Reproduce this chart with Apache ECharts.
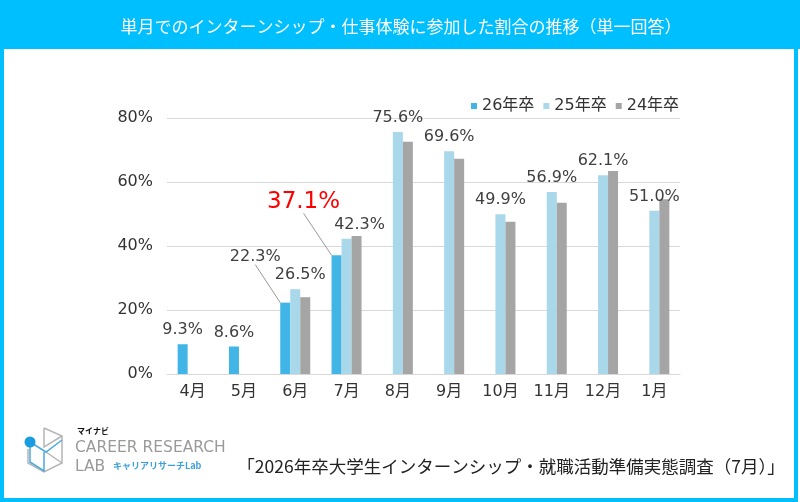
<!DOCTYPE html>
<html><head><meta charset="utf-8">
<script src="https://cdn.jsdelivr.net/npm/echarts@6/dist/echarts.min.js"></script>
<style>html,body{margin:0;padding:0;background:#fff}#c{width:800px;height:502px}</style>
</head><body><div id="c"></div>
<script>
const titleText = '単月でのインターンシップ・仕事体験に参加した割合の推移（単一回答）';
const sourceText = '「2026年卒大学生インターンシップ・就職活動準備実態調査（7月）」';
const categories = ['4月','5月','6月','7月','8月','9月','10月','11月','12月','1月'];
const seriesNames = ['26年卒','25年卒','24年卒'];
const grad26 = [9.3, 8.6, 22.3, 37.1, null, null, null, null, null, null];
const grad25 = [null, null, 26.5, 42.3, 75.6, 69.6, 49.9, 56.9, 62.1, 51.0];
const grad24 = [null, null, 24.0, 43.1, 72.6, 67.3, 47.6, 53.5, 63.4, 54.6];
const yTicks = [0, 20, 40, 60, 80];

const FONT = "'DejaVu Sans','Noto Sans CJK JP',sans-serif";
const JP = "'Noto Sans CJK JP',sans-serif";
const BLUE = '#00BFFF';
const chart = echarts.init(document.getElementById('c'), null, {renderer:'canvas'});
const fmt = p => p.value == null ? '' : Number(p.value).toFixed(1) + '%';
const lineOn = {show: true, lineStyle: {color: '#999', width: 1}};

chart.setOption({
  backgroundColor: '#fff',
  animation: false,
  color: ['#41B6E6', '#A8D8EA', '#A5A5A5'],
  graphic: [
    {type:'rect', shape:{x:0,y:0,width:800,height:49}, style:{fill:BLUE}, z:0},
    {type:'rect', shape:{x:2,y:0,width:794,height:500}, style:{fill:null, stroke:BLUE, lineWidth:4}, z:0},
    {type:'text', x:401, y:27, style:{text:titleText, fill:'#fff', font:"17px "+JP, textAlign:'center', textVerticalAlign:'middle'}},
    {type:'text', x:511, y:466, style:{text:sourceText, fill:'#222', font:"17.5px "+JP, textAlign:'center', textVerticalAlign:'middle'}},
    // logo
    {type:'polyline', shape:{points:[[44,428],[62,436],[62,463],[44,472],[28,463],[28,449]]}, style:{stroke:'#b5b5b5', lineWidth:1.5, fill:null}},
    {type:'polyline', shape:{points:[[44,428],[44,447],[62,436]]}, style:{stroke:'#b5b5b5', lineWidth:1.5, fill:null}},
    {type:'polyline', shape:{points:[[46,452],[62,463]]}, style:{stroke:'#b5b5b5', lineWidth:1.5, fill:null}},
    {type:'polyline', shape:{points:[[30,442],[46,452],[62,440]]}, style:{stroke:'#4aa8e0', lineWidth:1.5, fill:null}},
    {type:'polyline', shape:{points:[[30,447],[30,462],[44,471],[44,452]]}, style:{stroke:'#4aa8e0', lineWidth:1.5, fill:null}},
    {type:'circle', shape:{cx:30, cy:442, r:5.5}, style:{fill:'#1a9ce0'}},
    {type:'text', x:77, y:431, style:{text:'マイナビ', fill:'#111', font:"bold 8px "+JP, textVerticalAlign:'middle'}},
    {type:'text', x:75, y:448, style:{text:'CAREER RESEARCH', fill:'#9a9a9a', font:"15.5px 'DejaVu Sans'", textVerticalAlign:'middle'}},
    {type:'text', x:75, y:467, style:{text:'LAB', fill:'#9a9a9a', font:"15.5px 'DejaVu Sans'", textVerticalAlign:'middle'}},
    {type:'text', x:113, y:466, style:{text:'キャリアリサーチLab', fill:'#3aa0d8', font:"bold 9px "+JP, textVerticalAlign:'middle'}}
  ],
  legend: {
    data: seriesNames, left: 466, top: 93, icon: 'rect', itemWidth: 6, itemHeight: 6, itemGap: 9,
    textStyle: {fontSize: 16, color: '#333', fontFamily: FONT}
  },
  grid: {left: 167, right: 120, top: 118, bottom: 128},
  xAxis: {
    type: 'category', data: categories,
    axisLine: {lineStyle: {color: '#d9d9d9'}}, axisTick: {show: false},
    axisLabel: {fontSize: 16, color: '#333', fontFamily: FONT, margin: 10}
  },
  yAxis: {
    type: 'value', min: yTicks[0], max: yTicks[yTicks.length-1], interval: 20,
    axisLabel: {formatter: '{value}%', fontSize: 16, color: '#333', fontFamily: FONT, margin: 14},
    splitLine: {lineStyle: {color: '#d9d9d9'}}, axisLine: {show: false}, axisTick: {show: false}
  },
  series: [
    {
      name: seriesNames[0], type: 'bar', barWidth: 10, barGap: '0%',
      data: grad26.map((v, i) => i === 3 ? {value: v, label: {fontSize: 23, color: '#ff0000'}, labelLine: lineOn}
                                 : (i === 2 ? {value: v, labelLine: lineOn} : v)),
      label: {show: true, position: 'top', distance: 6, formatter: fmt, fontSize: 16, color: '#404040', fontFamily: FONT},
      labelLine: {show: false},
      labelLayout: p => p.dataIndex === 2 ? {dx: -30, dy: -32} : (p.dataIndex === 3 ? {dx: -33, dy: -36} : {})
    },
    {
      name: seriesNames[1], type: 'bar', barWidth: 10, barGap: '0%',
      data: grad25,
      label: {show: true, position: 'top', distance: 6, formatter: fmt, fontSize: 16, color: '#404040', fontFamily: FONT},
      labelLayout: p => p.dataIndex === 2 ? {dx: 5} : (p.dataIndex === 3 ? {dx: 13} : {})
    },
    {
      name: seriesNames[2], type: 'bar', barWidth: 10, barGap: '0%',
      data: grad24
    }
  ]
});
</script></body></html>
